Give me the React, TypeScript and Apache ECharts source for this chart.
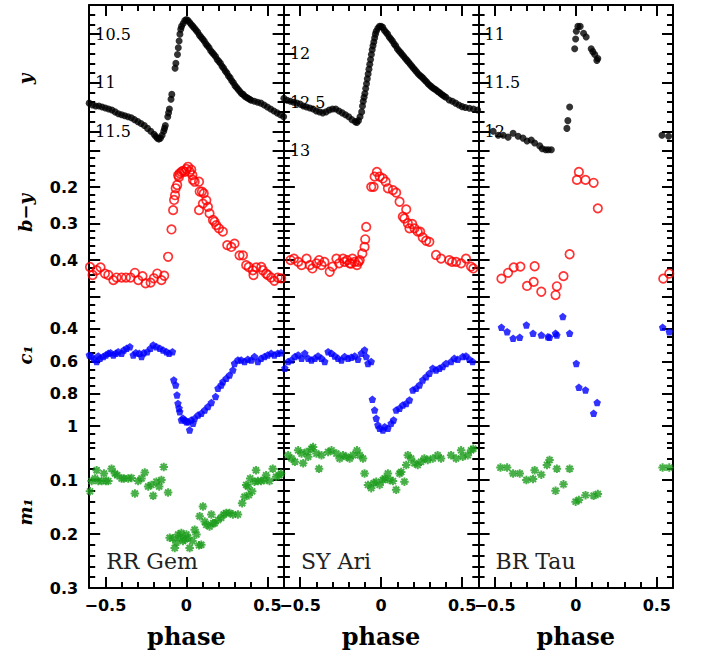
import React, { useEffect, useRef } from 'react';
import * as echarts from 'echarts';

// ---------- categories / labels ----------
const starNames = ['RR Gem', 'SY Ari', 'BR Tau'];
const bandTitles = ['y', 'b\u2212y', 'c\u2081', 'm\u2081'];

// ---------- axis ranges and tick labels ----------
const phaseRange = [-0.6, 0.6];
const phaseMajorTicks = [-0.5, 0, 0.5];
const phaseTickLabels = [-0.5, 0, 0.5];

const magRanges = [[10.2, 11.7], [11.5, 13.0], [10.7, 12.2]];
const magMajorTicks = [[10.5, 11, 11.5], [11.5, 12, 12.5, 13], [11, 11.5, 12]];
const magTickLabels = [[10.5, 11, 11.5], [12, 12.5, 13], [11, 11.5, 12]];

const byRange = [0.1, 0.5];
const byMajorTicks = [0.1, 0.2, 0.3, 0.4, 0.5];
const byTickLabels = [0.2, 0.3, 0.4];

const c1Range = [0.2, 1.1];
const c1MajorTicks = [0.2, 0.4, 0.6, 0.8, 1.0];
const c1TickLabels = [0.4, 0.6, 0.8, 1];

const m1Range = [0.03, 0.3];
const m1MajorTicks = [0.1, 0.2, 0.3];
const m1TickLabels = [0.1, 0.2, 0.3];

// ---------- data: [phase, value] ----------
const rrGemMag: number[][] = [
  [-0.60, 11.21], [-0.58, 11.23], [-0.56, 11.24], [-0.54, 11.24], [-0.52, 11.25], [-0.50, 11.26], [-0.48, 11.27],
  [-0.46, 11.28], [-0.44, 11.30], [-0.42, 11.32], [-0.40, 11.33], [-0.38, 11.34], [-0.36, 11.35], [-0.34, 11.36],
  [-0.32, 11.38], [-0.30, 11.40], [-0.28, 11.42], [-0.26, 11.44], [-0.24, 11.47], [-0.22, 11.50], [-0.20, 11.53],
  [-0.19, 11.55], [-0.18, 11.57], [-0.17, 11.58], [-0.16, 11.57], [-0.15, 11.54], [-0.14, 11.50], [-0.135, 11.47],
  [-0.13, 11.44], [-0.115, 11.35], [-0.11, 11.31], [-0.105, 11.27], [-0.095, 11.17], [-0.09, 11.12], [-0.07, 10.85],
  [-0.065, 10.80], [-0.055, 10.71], [-0.05, 10.64], [-0.045, 10.57], [-0.04, 10.50], [-0.035, 10.45], [-0.03, 10.42],
  [-0.02, 10.39], [-0.01, 10.36], [0.00, 10.35], [0.01, 10.36], [0.02, 10.38], [0.03, 10.40], [0.04, 10.42],
  [0.05, 10.44], [0.06, 10.46], [0.07, 10.48], [0.08, 10.51], [0.09, 10.53], [0.10, 10.55], [0.11, 10.57],
  [0.12, 10.60], [0.13, 10.62], [0.14, 10.64], [0.15, 10.67], [0.16, 10.69], [0.17, 10.71], [0.18, 10.73],
  [0.19, 10.76], [0.20, 10.78], [0.21, 10.80], [0.22, 10.83], [0.23, 10.85], [0.24, 10.88], [0.25, 10.90],
  [0.26, 10.93], [0.27, 10.95], [0.28, 10.98], [0.29, 11.00], [0.30, 11.03], [0.31, 11.05], [0.32, 11.07],
  [0.33, 11.09], [0.34, 11.11], [0.35, 11.12], [0.36, 11.14], [0.37, 11.15], [0.38, 11.16], [0.39, 11.17],
  [0.40, 11.18], [0.42, 11.19], [0.44, 11.20], [0.46, 11.21], [0.48, 11.23], [0.50, 11.25], [0.52, 11.27],
  [0.54, 11.29], [0.56, 11.31], [0.58, 11.33], [0.60, 11.35],
];
const syAriMag: number[][] = [
  [-0.60, 12.46], [-0.58, 12.48], [-0.56, 12.49], [-0.54, 12.50], [-0.52, 12.51], [-0.50, 12.52], [-0.48, 12.54],
  [-0.46, 12.55], [-0.44, 12.56], [-0.42, 12.57], [-0.40, 12.59], [-0.38, 12.60], [-0.36, 12.61], [-0.34, 12.60],
  [-0.32, 12.58], [-0.30, 12.57], [-0.28, 12.57], [-0.26, 12.59], [-0.24, 12.61], [-0.22, 12.63], [-0.20, 12.65],
  [-0.18, 12.68], [-0.16, 12.70], [-0.15, 12.71], [-0.14, 12.69], [-0.13, 12.65], [-0.12, 12.60], [-0.115, 12.54],
  [-0.11, 12.49], [-0.105, 12.45], [-0.10, 12.41], [-0.095, 12.36], [-0.09, 12.31], [-0.085, 12.26], [-0.08, 12.21],
  [-0.075, 12.16], [-0.07, 12.11], [-0.065, 12.06], [-0.06, 12.01], [-0.055, 11.96], [-0.05, 11.92], [-0.045, 11.88],
  [-0.04, 11.84], [-0.035, 11.80], [-0.03, 11.77], [-0.02, 11.74], [-0.01, 11.72], [0.00, 11.72], [0.01, 11.73],
  [0.02, 11.76], [0.03, 11.78], [0.04, 11.80], [0.05, 11.83], [0.06, 11.85], [0.07, 11.87], [0.08, 11.90],
  [0.09, 11.92], [0.10, 11.95], [0.11, 11.97], [0.12, 11.99], [0.13, 12.01], [0.14, 12.03], [0.15, 12.05],
  [0.16, 12.07], [0.17, 12.09], [0.18, 12.11], [0.19, 12.13], [0.20, 12.15], [0.21, 12.17], [0.22, 12.19],
  [0.23, 12.21], [0.24, 12.225], [0.25, 12.24], [0.26, 12.255], [0.27, 12.275], [0.28, 12.29], [0.29, 12.31],
  [0.30, 12.325], [0.31, 12.34], [0.32, 12.355], [0.33, 12.365], [0.34, 12.375], [0.35, 12.39], [0.36, 12.40],
  [0.37, 12.415], [0.38, 12.426], [0.39, 12.44], [0.40, 12.45], [0.42, 12.477], [0.44, 12.49], [0.46, 12.51],
  [0.48, 12.53], [0.50, 12.546], [0.52, 12.555], [0.545, 12.563], [0.57, 12.57], [0.596, 12.58],
];
const brTauMag: number[][] = [
  [-0.510, 12.00], [-0.479, 12.04], [-0.448, 12.04], [-0.418, 12.06], [-0.387, 12.02], [-0.356, 12.05],
  [-0.326, 12.07], [-0.301, 12.10], [-0.275, 12.09], [-0.254, 12.12], [-0.223, 12.15], [-0.207, 12.18],
  [-0.186, 12.19], [-0.170, 12.19], [-0.151, 12.19], [-0.055, 11.97], [-0.049, 11.89], [-0.038, 11.75],
  [-0.007, 11.15], [-0.001, 11.05], [0.003, 10.97], [0.013, 10.92], [0.027, 10.92], [0.048, 10.99],
  [0.064, 11.03], [0.095, 11.15], [0.105, 11.18], [0.117, 11.21], [0.130, 11.27], [0.136, 11.25],
  [0.532, 12.04], [0.573, 12.05],
];

const rrGemBy: number[][] = [
  [-0.595, 0.419], [-0.579, 0.441], [-0.554, 0.428], [-0.530, 0.420], [-0.503, 0.437], [-0.482, 0.441],
  [-0.451, 0.455], [-0.431, 0.448], [-0.400, 0.448], [-0.373, 0.448], [-0.345, 0.448], [-0.318, 0.435],
  [-0.297, 0.455], [-0.271, 0.444], [-0.252, 0.464], [-0.221, 0.462], [-0.201, 0.450], [-0.180, 0.437],
  [-0.154, 0.455], [-0.137, 0.443], [-0.113, 0.391], [-0.092, 0.316], [-0.082, 0.263], [-0.076, 0.235],
  [-0.070, 0.222], [-0.066, 0.203], [-0.057, 0.194], [-0.051, 0.167], [-0.046, 0.172], [-0.041, 0.162],
  [-0.031, 0.158], [-0.020, 0.155], [-0.010, 0.158], [0.000, 0.150], [0.010, 0.144], [0.021, 0.158],
  [0.030, 0.152], [0.037, 0.167], [0.041, 0.180], [0.051, 0.185], [0.078, 0.185], [0.082, 0.212],
  [0.096, 0.212], [0.107, 0.217], [0.102, 0.245], [0.123, 0.236], [0.078, 0.263], [0.133, 0.254],
  [0.143, 0.272], [0.164, 0.290], [0.174, 0.295], [0.184, 0.304], [0.201, 0.313], [0.225, 0.322],
  [0.252, 0.359], [0.277, 0.364], [0.297, 0.355], [0.328, 0.387], [0.349, 0.387], [0.369, 0.414],
  [0.385, 0.419], [0.410, 0.428], [0.414, 0.441], [0.431, 0.420], [0.462, 0.419], [0.472, 0.428],
  [0.492, 0.437], [0.503, 0.441], [0.523, 0.448], [0.543, 0.457], [0.564, 0.448], [0.585, 0.450],
];
const syAriBy: number[][] = [
  [-0.559, 0.400], [-0.538, 0.396], [-0.512, 0.405], [-0.491, 0.414], [-0.460, 0.396], [-0.440, 0.414],
  [-0.424, 0.423], [-0.399, 0.409], [-0.383, 0.400], [-0.368, 0.414], [-0.350, 0.405], [-0.317, 0.432],
  [-0.300, 0.418], [-0.276, 0.396], [-0.259, 0.409], [-0.235, 0.396], [-0.225, 0.405], [-0.210, 0.400],
  [-0.194, 0.409], [-0.185, 0.410], [-0.177, 0.396], [-0.163, 0.405], [-0.149, 0.414], [-0.140, 0.405],
  [-0.132, 0.400], [-0.116, 0.382], [-0.102, 0.364], [-0.098, 0.343], [-0.092, 0.309], [-0.061, 0.199],
  [-0.046, 0.199], [-0.040, 0.171], [-0.026, 0.158], [-0.009, 0.171], [0.011, 0.176], [0.028, 0.185],
  [0.042, 0.203], [0.073, 0.208], [0.093, 0.215], [0.114, 0.240], [0.134, 0.281], [0.155, 0.261],
  [0.144, 0.286], [0.165, 0.299], [0.175, 0.313], [0.192, 0.301], [0.206, 0.313], [0.226, 0.322],
  [0.241, 0.322], [0.257, 0.338], [0.278, 0.347], [0.298, 0.350], [0.339, 0.386], [0.370, 0.396],
  [0.421, 0.400], [0.438, 0.405], [0.463, 0.405], [0.494, 0.409], [0.524, 0.396], [0.555, 0.418],
  [0.569, 0.423],
];
const brTauBy: number[][] = [
  [-0.459, 0.451], [-0.418, 0.435], [-0.383, 0.420], [-0.342, 0.418], [-0.301, 0.471], [-0.260, 0.460],
  [-0.254, 0.417], [-0.213, 0.487], [-0.125, 0.496], [-0.117, 0.472], [-0.076, 0.444], [-0.038, 0.384],
  [0.007, 0.180], [0.019, 0.158], [0.060, 0.180], [0.110, 0.188], [0.136, 0.258],
  [0.540, 0.451], [0.577, 0.437],
];

const rrGemC1: number[][] = [
  [-0.599, 0.561], [-0.585, 0.571], [-0.570, 0.588], [-0.554, 0.602], [-0.544, 0.567], [-0.533, 0.582],
  [-0.513, 0.571], [-0.497, 0.561], [-0.482, 0.551], [-0.468, 0.547], [-0.451, 0.561], [-0.435, 0.551],
  [-0.421, 0.541], [-0.400, 0.551], [-0.386, 0.530], [-0.369, 0.520], [-0.349, 0.510], [-0.328, 0.561],
  [-0.312, 0.547], [-0.291, 0.551], [-0.277, 0.571], [-0.263, 0.547], [-0.242, 0.541], [-0.222, 0.520],
  [-0.205, 0.499], [-0.185, 0.510], [-0.164, 0.520], [-0.144, 0.530], [-0.123, 0.541], [-0.107, 0.551],
  [-0.086, 0.541],
  [-0.078, 0.715], [-0.066, 0.746], [-0.058, 0.808], [-0.052, 0.860], [-0.045, 0.890], [-0.041, 0.911],
  [-0.031, 0.962], [-0.021, 0.952], [-0.010, 0.962], [0.000, 0.973], [0.010, 0.973], [0.020, 1.024],
  [0.030, 0.962], [0.041, 0.983], [0.051, 0.952], [0.072, 0.932], [0.092, 0.921], [0.113, 0.901],
  [0.133, 0.880], [0.154, 0.855], [0.180, 0.818], [0.195, 0.767], [0.215, 0.746], [0.225, 0.726],
  [0.246, 0.705], [0.266, 0.685], [0.287, 0.654], [0.297, 0.613], [0.318, 0.592], [0.338, 0.592],
  [0.359, 0.602], [0.379, 0.588], [0.400, 0.592], [0.420, 0.571], [0.441, 0.602], [0.461, 0.582],
  [0.482, 0.571], [0.502, 0.561], [0.523, 0.551], [0.543, 0.561], [0.564, 0.551], [0.584, 0.547],
];
const syAriC1: number[][] = [
  [-0.594, 0.643], [-0.574, 0.602], [-0.553, 0.592], [-0.532, 0.571], [-0.512, 0.561], [-0.491, 0.582],
  [-0.471, 0.551], [-0.450, 0.582], [-0.430, 0.592], [-0.409, 0.582], [-0.389, 0.567], [-0.368, 0.582],
  [-0.348, 0.602], [-0.327, 0.541], [-0.306, 0.551], [-0.286, 0.567], [-0.266, 0.582], [-0.245, 0.592],
  [-0.225, 0.571], [-0.204, 0.582], [-0.184, 0.575], [-0.163, 0.567], [-0.143, 0.588], [-0.122, 0.551],
  [-0.102, 0.530], [-0.092, 0.571], [-0.081, 0.613], [-0.061, 0.602],
  [-0.054, 0.835], [-0.040, 0.901], [-0.030, 0.952], [-0.020, 0.993], [-0.009, 1.014], [0.011, 1.024],
  [0.022, 1.004], [0.042, 1.014], [0.062, 0.983], [0.077, 0.962], [0.093, 0.901], [0.114, 0.890],
  [0.134, 0.870], [0.155, 0.860], [0.175, 0.839], [0.196, 0.777], [0.216, 0.767], [0.237, 0.746],
  [0.257, 0.715], [0.278, 0.695], [0.298, 0.674], [0.319, 0.643], [0.339, 0.654], [0.360, 0.643],
  [0.380, 0.633], [0.401, 0.613], [0.432, 0.602], [0.452, 0.582], [0.473, 0.588], [0.504, 0.571],
  [0.524, 0.567], [0.545, 0.588], [0.565, 0.602],
];
const brTauC1: number[][] = [
  [-0.459, 0.390], [-0.424, 0.417], [-0.387, 0.458], [-0.346, 0.452], [-0.305, 0.376], [-0.264, 0.427],
  [-0.213, 0.438], [-0.172, 0.448], [-0.162, 0.452], [-0.125, 0.427], [-0.117, 0.438], [-0.080, 0.324],
  [-0.038, 0.427], [0.003, 0.613], [0.019, 0.761], [0.060, 0.777], [0.110, 0.921], [0.132, 0.855],
  [0.536, 0.390], [0.577, 0.417],
];

const rrGemM1: number[][] = [
  [-0.595, 0.121], [-0.585, 0.102], [-0.564, 0.097], [-0.554, 0.082], [-0.544, 0.102], [-0.523, 0.102],
  [-0.509, 0.088], [-0.497, 0.102], [-0.482, 0.102], [-0.462, 0.079], [-0.441, 0.088], [-0.427, 0.091],
  [-0.400, 0.097], [-0.386, 0.097], [-0.359, 0.097], [-0.339, 0.096], [-0.318, 0.125], [-0.298, 0.102],
  [-0.277, 0.097], [-0.257, 0.086], [-0.236, 0.112], [-0.216, 0.109], [-0.205, 0.129], [-0.185, 0.103],
  [-0.168, 0.112], [-0.154, 0.100], [-0.140, 0.076], [-0.113, 0.123],
  [-0.103, 0.207], [-0.082, 0.208], [-0.072, 0.226], [-0.062, 0.216], [-0.051, 0.201], [-0.041, 0.207],
  [-0.031, 0.198], [-0.021, 0.213], [-0.010, 0.210], [0.000, 0.201], [0.010, 0.207], [0.020, 0.226],
  [0.037, 0.213], [0.051, 0.192], [0.062, 0.201], [0.078, 0.221], [0.092, 0.220], [0.082, 0.167],
  [0.102, 0.149], [0.113, 0.177], [0.123, 0.183], [0.143, 0.186], [0.154, 0.164], [0.164, 0.180],
  [0.174, 0.180], [0.195, 0.174], [0.215, 0.170], [0.230, 0.164], [0.246, 0.161], [0.266, 0.161],
  [0.287, 0.164], [0.318, 0.164], [0.344, 0.143], [0.359, 0.131], [0.369, 0.109], [0.379, 0.112],
  [0.385, 0.128], [0.394, 0.097], [0.406, 0.121], [0.420, 0.103], [0.430, 0.082], [0.441, 0.102],
  [0.461, 0.102], [0.482, 0.100], [0.492, 0.091], [0.513, 0.102], [0.533, 0.079], [0.554, 0.094],
  [0.574, 0.091], [0.584, 0.088],
];
const syAriM1: number[][] = [
  [-0.574, 0.054], [-0.553, 0.060], [-0.532, 0.066], [-0.512, 0.045], [-0.491, 0.051], [-0.481, 0.069],
  [-0.460, 0.048], [-0.450, 0.057], [-0.430, 0.042], [-0.420, 0.039], [-0.399, 0.051], [-0.383, 0.079],
  [-0.368, 0.054], [-0.327, 0.048], [-0.306, 0.045], [-0.276, 0.051], [-0.256, 0.060], [-0.235, 0.054],
  [-0.214, 0.057], [-0.194, 0.060], [-0.173, 0.054], [-0.149, 0.045], [-0.132, 0.054], [-0.112, 0.060],
  [-0.102, 0.088], [-0.081, 0.109], [-0.061, 0.115], [-0.046, 0.106], [-0.030, 0.103], [-0.009, 0.109],
  [0.011, 0.100], [0.022, 0.097], [0.042, 0.088], [0.052, 0.100], [0.073, 0.102], [0.093, 0.118],
  [0.114, 0.088], [0.124, 0.085], [0.144, 0.103], [0.155, 0.072], [0.165, 0.054], [0.185, 0.060],
  [0.206, 0.069], [0.226, 0.072], [0.247, 0.066], [0.267, 0.060], [0.288, 0.063], [0.319, 0.060],
  [0.349, 0.054], [0.370, 0.060], [0.432, 0.054], [0.463, 0.060], [0.494, 0.045], [0.504, 0.057],
  [0.535, 0.054], [0.555, 0.045], [0.569, 0.042],
];
const brTauM1: number[][] = [
  [-0.465, 0.077], [-0.424, 0.077], [-0.387, 0.088], [-0.346, 0.088], [-0.305, 0.100], [-0.264, 0.098],
  [-0.254, 0.082], [-0.213, 0.090], [-0.178, 0.072], [-0.162, 0.063], [-0.117, 0.079], [-0.125, 0.120],
  [-0.076, 0.108], [-0.038, 0.079], [-0.001, 0.140], [0.019, 0.137], [0.060, 0.128], [0.110, 0.129],
  [0.136, 0.126], [0.536, 0.077], [0.577, 0.077],
];

const magData = [rrGemMag, syAriMag, brTauMag];
const byData = [rrGemBy, syAriBy, brTauBy];
const c1Data = [rrGemC1, syAriC1, brTauC1];
const m1Data = [rrGemM1, syAriM1, brTauM1];

// ---------- helpers ----------
function steps(a: number, b: number, s: number): number[] {
  const out: number[] = [];
  const n = Math.round((b - a) / s);
  for (let i = 0; i <= n; i++) out.push(Math.round((a + i * s) * 10000) / 10000);
  return out;
}
const fmt = (v: number) => {
  const r = Math.round(v * 1000) / 1000;
  return r < 0 ? '\u2212' + String(-r) : String(r);
};

const PENTAGON = 'path://M0,-10L9.51,-3.09L5.88,8.09L-5.88,8.09L-9.51,-3.09Z';
const ASTERISK = 'path://M0,-10L0,10M-10,0L10,0M-7.07,-7.07L7.07,7.07M-7.07,7.07L7.07,-7.07';

const colLeft = [89.2, 283.9, 478.6];
const colWidth = 194.4;
const rowTop = [5, 150.75, 296.5, 442.25];
const rowHeight = 145.75;

function buildOption() {
  const grid: any[] = [];
  const xAxis: any[] = [];
  const yAxis: any[] = [];
  const series: any[] = [];
  const black = '#000';

  const phaseMinor = steps(phaseRange[0], phaseRange[1], 0.1);

  for (let c = 0; c < 3; c++) {
    for (let r = 0; r < 4; r++) {
      const g = grid.length;
      grid.push({ left: colLeft[c], top: rowTop[r], width: colWidth, height: rowHeight, outerBoundsMode: 'none' });

      const xBase: any = {
        type: 'value', gridIndex: g, min: phaseRange[0], max: phaseRange[1],
        splitLine: { show: false }, axisLabel: { show: false },
        axisTick: { show: false }, axisLine: { show: false, onZero: false },
      };
      const mainX = xAxis.length;
      if (r === 0 || r === 3) {
        const pos = r === 0 ? 'top' : 'bottom';
        xAxis.push({
          ...xBase, position: pos,
          axisLine: { show: true, onZero: false, lineStyle: { color: black, width: 2 } },
          axisTick: { show: true, inside: true, length: 11, customValues: phaseMajorTicks, lineStyle: { color: black, width: 2 } },
          axisLabel: r === 3 ? {
            show: true, customValues: phaseTickLabels, margin: 9, formatter: fmt,
            fontFamily: 'DejaVu Sans', fontWeight: 'bold', fontSize: 16, color: black,
          } : { show: false },
        });
        xAxis.push({
          ...xBase, position: pos,
          axisTick: { show: true, inside: true, length: 6, customValues: phaseMinor, lineStyle: { color: black, width: 2 } },
        });
      } else {
        xAxis.push({ ...xBase, show: false });
      }

      let range: number[], major: number[], labels: number[], minor: number[];
      if (r === 0) {
        range = magRanges[c]; major = magMajorTicks[c]; labels = magTickLabels[c];
        minor = steps(range[0], range[1], 0.1);
      } else if (r === 1) {
        range = byRange; major = byMajorTicks; labels = byTickLabels; minor = steps(0.1, 0.5, 0.02);
      } else if (r === 2) {
        range = c1Range; major = c1MajorTicks; labels = c1TickLabels; minor = steps(0.2, 1.1, 0.05);
      } else {
        range = m1Range; major = m1MajorTicks; labels = m1TickLabels; minor = steps(0.04, 0.3, 0.02);
      }

      let labelCfg: any = { show: false };
      if (r === 0) {
        labelCfg = {
          show: true, inside: true, margin: 6, customValues: labels, formatter: fmt,
          fontFamily: 'DejaVu Serif', fontSize: 16, color: black,
        };
      } else if (c === 0) {
        labelCfg = {
          show: true, inside: false, margin: 11, customValues: labels, formatter: fmt,
          fontFamily: 'DejaVu Sans', fontWeight: 'bold', fontSize: 16, color: black,
        };
      }

      const yBase: any = {
        type: 'value', gridIndex: g, min: range[0], max: range[1], inverse: true,
        splitLine: { show: false }, axisLabel: { show: false },
        axisLine: { show: false, onZero: false },
      };
      const mainY = yAxis.length;
      for (const pos of ['left', 'right']) {
        yAxis.push({
          ...yBase, position: pos,
          axisLine: { show: true, onZero: false, lineStyle: { color: black, width: 2 } },
          axisTick: { show: true, inside: true, length: 11, customValues: major, lineStyle: { color: black, width: 2 } },
          axisLabel: pos === 'left' ? labelCfg : { show: false },
        });
        yAxis.push({
          ...yBase, position: pos,
          axisTick: { show: true, inside: true, length: 6, customValues: minor, lineStyle: { color: black, width: 2 } },
        });
      }

      const common: any = { type: 'scatter', xAxisIndex: mainX, yAxisIndex: mainY, clip: false, silent: true, z: 3 };
      if (r === 0) {
        series.push({ ...common, data: magData[c], symbol: 'circle', symbolSize: 7, itemStyle: { color: '#000' } });
      } else if (r === 1) {
        series.push({
          ...common, data: byData[c], symbol: 'circle', symbolSize: 8.5,
          itemStyle: { color: 'rgba(255,255,255,0)', borderColor: '#ff0000', borderWidth: 1.7 },
        });
      } else if (r === 2) {
        series.push({ ...common, data: c1Data[c], symbol: PENTAGON, symbolSize: 7.5, itemStyle: { color: '#0000ff' } });
      } else {
        series.push({
          ...common, data: m1Data[c], symbol: ASTERISK, symbolSize: 8.5,
          itemStyle: { color: 'rgba(0,0,0,0)', borderColor: '#1c9c1c', borderWidth: 2 },
        });
      }
    }
  }

  const graphic: any[] = [];
  for (let c = 0; c < 3; c++) {
    graphic.push({
      type: 'text', x: colLeft[c] + 17, y: 561, silent: true,
      style: { text: starNames[c], fontFamily: 'DejaVu Serif', fontSize: 22, fill: '#222', align: 'left', verticalAlign: 'middle' },
    });
    graphic.push({
      type: 'text', x: colLeft[c] + colWidth / 2, y: 636, silent: true,
      style: { text: 'phase', fontFamily: 'DejaVu Serif', fontWeight: 'bold', fontSize: 24, fill: '#000', align: 'center', verticalAlign: 'middle' },
    });
  }
  const titleY = [79, 213, 355, 512];
  for (let r = 0; r < 4; r++) {
    graphic.push({
      type: 'text', x: 25, y: titleY[r], rotation: Math.PI / 2, silent: true,
      style: {
        text: bandTitles[r], fontFamily: 'DejaVu Serif', fontStyle: 'italic', fontWeight: 'bold',
        fontSize: 18, fill: '#000', align: 'center', verticalAlign: 'middle',
      },
    });
  }

  return { animation: false, backgroundColor: '#fff', grid, xAxis, yAxis, series, graphic };
}

export default function App() {
  const ref = useRef<HTMLDivElement>(null);
  useEffect(() => {
    if (!ref.current) return;
    const chart = echarts.init(ref.current, undefined, { renderer: 'svg' });
    chart.setOption(buildOption() as any);
    return () => chart.dispose();
  }, []);
  return <div ref={ref} style={{ position: 'absolute', left: 0, top: 0, width: 702, height: 650 }} />;
}
